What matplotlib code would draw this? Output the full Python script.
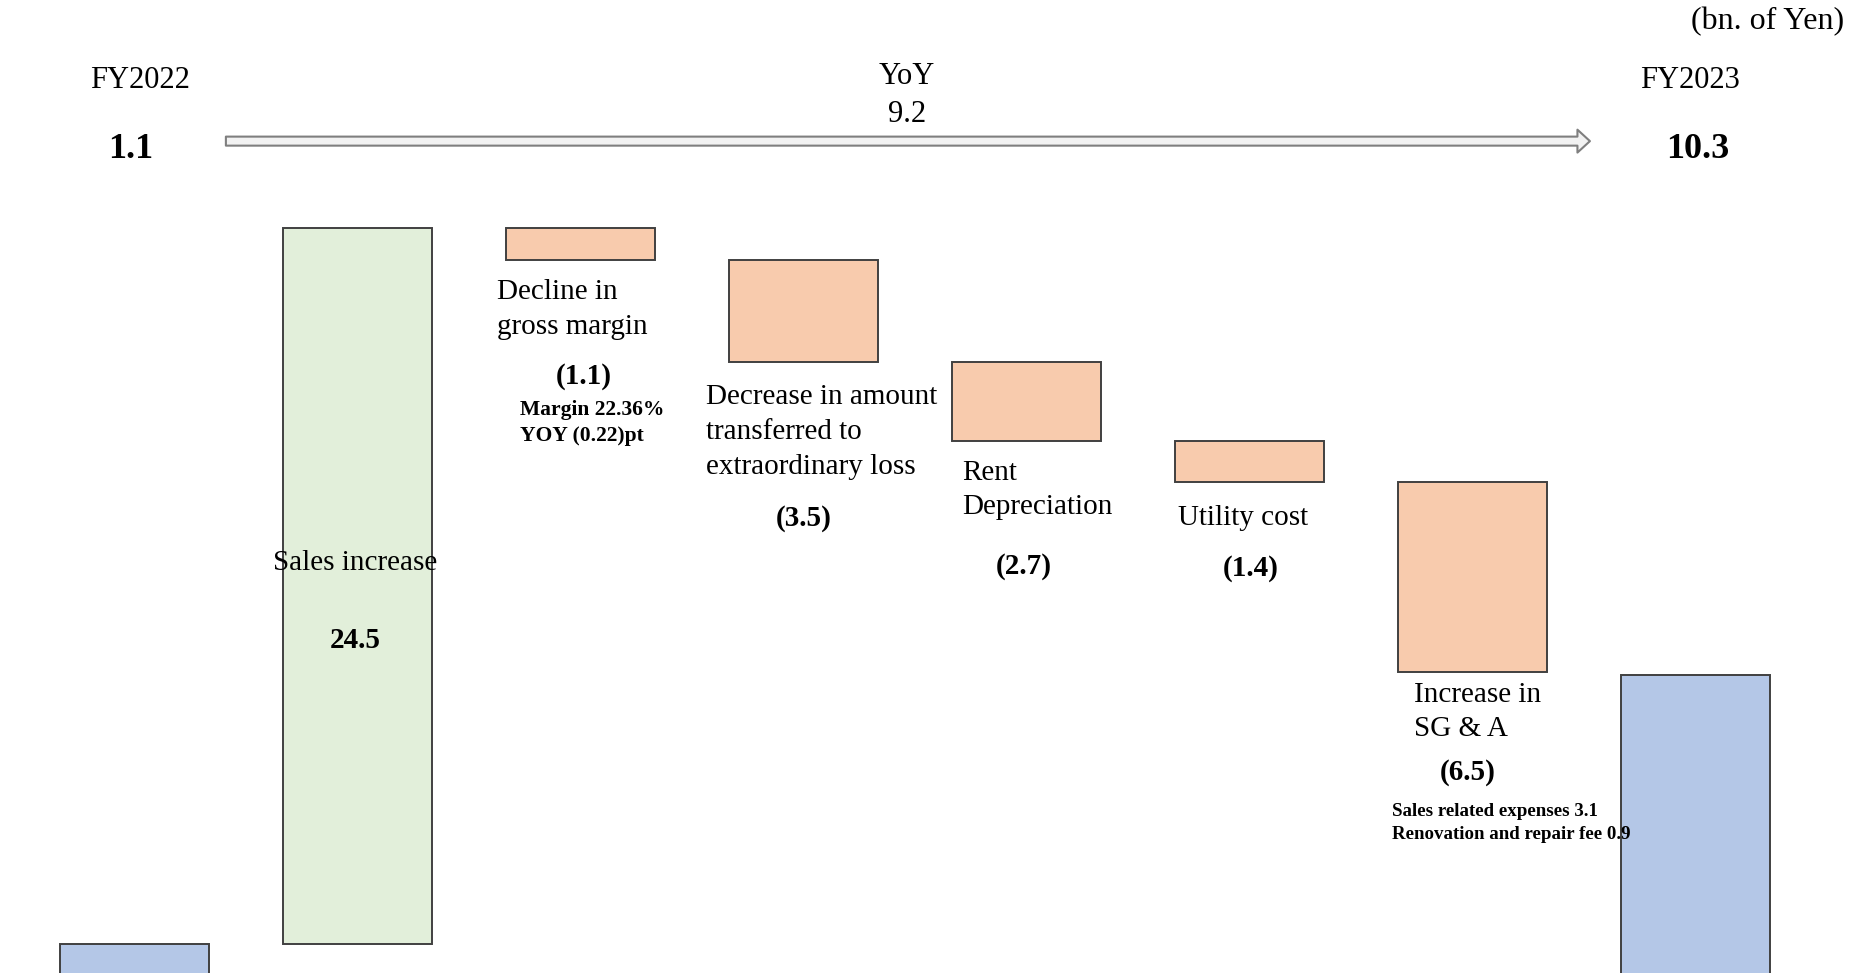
import matplotlib
matplotlib.use('Agg')
import numpy as np
import matplotlib.pyplot as plt

## Initialize
matplotlib.rc('font', family=['Liberation Serif', 'DejaVu Serif'])

## Data (bn. of Yen)
steps = ['FY2022', 'Sales increase', 'Decline in\ngross margin',
         'Decrease in amount\ntransferred to\nextraordinary loss',
         'Rent\nDepreciation', 'Utility cost', 'Increase in\nSG & A', 'FY2023']
start_value = 1.1
changes = [24.5, -1.1, -3.5, -2.7, -1.4, -6.5]
end_value = 10.3
yoy = 9.2
margin_note = 'Margin 22.36%\nYOY (0.22)pt'
sga_note = 'Sales related expenses 3.1\nRenovation and repair fee 0.9'

colors = {'total': '#B4C7E7', 'up': '#E2EFDA', 'down': '#F8CBAD'}
edge = '#404040'

W, H = 1864, 973
fig = plt.figure(figsize=(W / 100, H / 100), dpi=100)
ax = fig.add_axes([0, 0, 1, 1])
ax.set_axis_off()

## Waterfall geometry
level = np.concatenate([[start_value], start_value + np.cumsum(changes)])
bottoms, heights = [0.0], [start_value]
for k, c in enumerate(changes):
    bottoms.append(min(level[k], level[k] + c))
    heights.append(abs(c))
bottoms.append(0.0)
heights.append(end_value)
fills = [colors['total']] + [colors['up'] if c > 0 else colors['down'] for c in changes] + [colors['total']]
x = np.arange(len(steps))
ax.bar(x, heights, bottom=bottoms, width=0.668, color=fills, edgecolor=edge, linewidth=1.4)
ax.set_xlim(-0.603, 7.756)
ax.set_ylim(0.10, 33.4)

## YoY arrow
ax.annotate('', xy=(6.527, 28.57), xytext=(0.41, 28.57),
            arrowprops=dict(arrowstyle='simple,head_length=0.9,head_width=1.65,tail_width=0.65',
                            fc='#F2F2F2', ec='#7F7F7F', lw=1.5, mutation_scale=10,
                            shrinkA=0, shrinkB=0))

## Texts (pixel positions from top-left)
def put(px, py, s, size, weight='normal', ha='center', va='center', ls=1.2):
    fig.text(px / W, 1 - (py + 3) / H, s, fontsize=size, fontweight=weight,
             ha=ha, va=va, linespacing=ls)

put(1844, 19, '(bn. of Yen)', 23, ha='right')
put(140, 77, steps[0], 22)
put(1690, 77, steps[-1], 22)
put(131, 147, f'{start_value:.1f}', 26, 'bold')
put(1698, 147, f'{end_value:.1f}', 26, 'bold')
put(907, 73, 'YoY', 22)
put(907, 111, f'{yoy:.1f}', 22)

# Sales increase
put(355, 560, steps[1], 21)
put(355, 637, f'{changes[0]:.1f}', 21, 'bold')
# Decline in gross margin
put(497, 307, steps[2], 21, ha='left', ls=1.45)
put(584, 374, f'({abs(changes[1]):.1f})', 21, 'bold')
put(520, 420, margin_note, 15.5, 'bold', ha='left', ls=1.4)
# Extraordinary loss
put(706, 429, steps[3], 21, ha='left', ls=1.45)
put(804, 515, f'({abs(changes[2]):.1f})', 21, 'bold')
# Rent
put(962, 487, steps[4], 21, ha='left', ls=1.45)
put(1024, 563, f'({abs(changes[3]):.1f})', 21, 'bold')
# Utility
put(1178, 515, steps[5], 21, ha='left')
put(1251, 565, f'({abs(changes[4]):.1f})', 21, 'bold')
# SG & A
put(1414, 709, steps[6], 21, ha='left', ls=1.45)
put(1468, 769, f'({abs(changes[5]):.1f})', 21, 'bold')
put(1392, 820, sga_note, 13.6, 'bold', ha='left', ls=1.4)

plt.savefig('out.png', dpi=100)
